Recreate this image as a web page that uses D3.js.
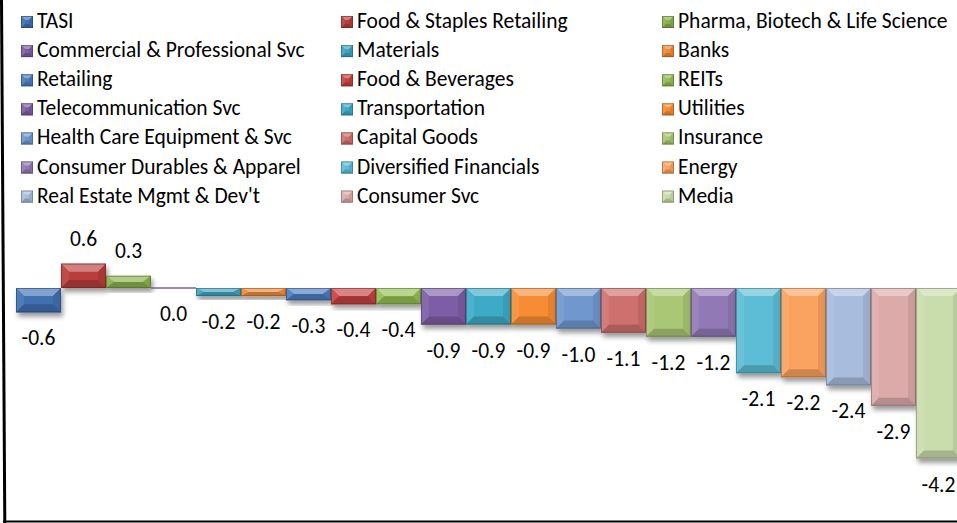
<!DOCTYPE html>
<html>
<head>
<meta charset="utf-8">
<script src="https://cdn.jsdelivr.net/npm/d3@7"></script>
<style>
  html, body { margin: 0; padding: 0; background: #fff; }
  svg { display: block; }
  text { font-family: Carlito, Calibri, Lato, "Open Sans", sans-serif; fill: #000; }
</style>
</head>
<body>
<svg id="chart" width="957" height="523"></svg>
<script>
// ---- data ----
const categories = [
  "TASI", "Food & Staples Retailing", "Pharma, Biotech & Life Science",
  "Commercial & Professional Svc", "Materials", "Banks",
  "Retailing", "Food & Beverages", "REITs",
  "Telecommunication Svc", "Transportation", "Utilities",
  "Health Care Equipment & Svc", "Capital Goods", "Insurance",
  "Consumer Durables & Apparel", "Diversified Financials", "Energy",
  "Real Estate Mgmt & Dev't", "Consumer Svc", "Media"
];
const values = [
  -0.6, 0.6, 0.3,
  0.0, -0.2, -0.2,
  -0.3, -0.4, -0.4,
  -0.9, -0.9, -0.9,
  -1.0, -1.1, -1.2,
  -1.2, -2.1, -2.2,
  -2.4, -2.9, -4.2
];
const colors = [
  "#3f6fb0", "#b83d3a", "#8ab04a",
  "#7b5fa0", "#3fa3be", "#ee8a38",
  "#4a7cc0", "#c4423f", "#93be52",
  "#7d5da5", "#3daac6", "#f68d34",
  "#7097ce", "#ce6f6d", "#a9c774",
  "#9179b6", "#5dbdd6", "#faa25f",
  "#a8bcdd", "#ddaaaa", "#c9dcac"
];
const yDomain = [-5, 1];

// ---- layout ----
const W = 957, H = 523;
const svg = d3.select("#chart");
const FONT = 21.5;

const x = d3.scaleBand().domain(categories).range([16, 961]).padding(0);
const y = d3.scaleLinear().domain(yDomain).range([491, 247.4]);

const defs = svg.append("defs");
const f = defs.append("filter").attr("id", "shadow")
  .attr("x", "-20%").attr("y", "-20%").attr("width", "140%").attr("height", "160%");
f.append("feDropShadow").attr("dx", 2).attr("dy", 4).attr("stdDeviation", 2.5)
  .attr("flood-color", "#000").attr("flood-opacity", 0.4);

const lighter = (c, t) => d3.interpolateRgb(c, "#ffffff")(t);
const darker = (c, t) => d3.interpolateRgb(c, "#000000")(t);

function bevel(g, x0, y0, w, h, c, bmax) {
  const bx = Math.min(bmax, w / 2), by = Math.min(bmax, h / 2);
  const x1 = x0 + w, y1 = y0 + h;
  const pts = a => a.map(p => p.join(",")).join(" ");
  g.append("rect").attr("x", x0).attr("y", y0).attr("width", w).attr("height", h)
    .attr("fill", c);
  if (h - 2 * by > 0 && w - 2 * bx > 0) {
    g.append("rect").attr("x", x0 + bx).attr("y", y0 + by)
      .attr("width", w - 2 * bx).attr("height", h - 2 * by).attr("fill", c);
  }
  g.append("polygon").attr("points", pts([[x0, y0], [x1, y0], [x1 - bx, y0 + by], [x0 + bx, y0 + by]]))
    .attr("fill", lighter(c, 0.35));
  g.append("polygon").attr("points", pts([[x0, y0], [x0 + bx, y0 + by], [x0 + bx, y1 - by], [x0, y1]]))
    .attr("fill", lighter(c, 0.08));
  g.append("polygon").attr("points", pts([[x1, y0], [x1 - bx, y0 + by], [x1 - bx, y1 - by], [x1, y1]]))
    .attr("fill", darker(c, 0.08));
  g.append("polygon").attr("points", pts([[x0, y1], [x1, y1], [x1 - bx, y1 - by], [x0 + bx, y1 - by]]))
    .attr("fill", darker(c, 0.18));
  g.append("rect").attr("x", x0 + 0.5).attr("y", y0 + 0.5).attr("width", Math.max(0, w - 1)).attr("height", Math.max(0, h - 1))
    .attr("fill", "none").attr("stroke", darker(c, 0.45)).attr("stroke-opacity", 0.55).attr("stroke-width", 1);
}

// ---- bars ----
const barsG = svg.append("g");
categories.forEach((cat, i) => {
  const v = values[i];
  const x0 = x(cat), w = x.bandwidth();
  const yTop = y(Math.max(0, v)), yBot = y(Math.min(0, v));
  if (yBot - yTop < 0.5) {
    barsG.append("line").attr("x1", x0).attr("x2", x0 + w).attr("y1", y(0)).attr("y2", y(0))
      .attr("stroke", colors[i]).attr("stroke-width", 1.3);
  } else {
    const g = barsG.append("g").attr("filter", "url(#shadow)");
    bevel(g, x0, yTop, w, yBot - yTop, colors[i], 8);
  }
});

// ---- value labels ----
const fmt = v => d3.format(".1f")(v).replace("\u2212", "-");
svg.append("g").selectAll("text").data(categories).join("text")
  .attr("x", d => x(d) + x.bandwidth() / 2)
  .attr("y", (d, i) => values[i] > 0 ? y(values[i]) - 18 : y(values[i]) + 33)
  .attr("text-anchor", "middle")
  .attr("font-size", FONT)
  .text((d, i) => fmt(values[i]));

// ---- legend ----
const colX = [21, 341, 662];
const leg = svg.append("g");
categories.forEach((cat, i) => {
  const cx = colX[i % 3], row = Math.floor(i / 3);
  const base = 28 + row * 29.1;
  const g = leg.append("g");
  bevel(g, cx, base - 12, 12, 12, colors[i], 4);
  leg.append("text").attr("x", cx + 16).attr("y", base).attr("font-size", FONT).text(cat);
});

// ---- frame ----
svg.append("path").attr("d", `M1.5,0 L4.8,${H}`).attr("stroke", "#000").attr("stroke-width", 3).attr("fill", "none");
svg.append("line").attr("x1", 3).attr("x2", W).attr("y1", 521.6).attr("y2", 521.6)
  .attr("stroke", "#000").attr("stroke-width", 2);
</script>
</body>
</html>
